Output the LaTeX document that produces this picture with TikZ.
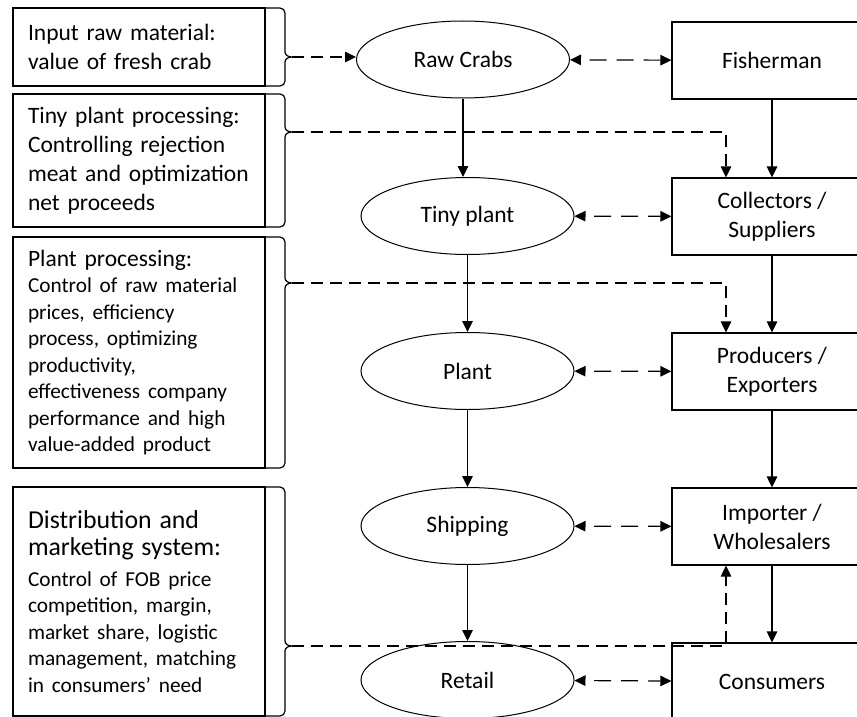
\documentclass[tikz,border=0pt]{standalone}
\usepackage{fontspec}
\setmainfont{Carlito}
\usetikzlibrary{arrows.meta,shapes.geometric}

\newcommand{\detail}{\fontsize{21.3}{26.5}\selectfont}
\newcommand{\headbig}{\fontsize{25.8}{27}\selectfont}
% brace on the right side of a left box: top, tip, bottom, name of tip
\newcommand{\crabbrace}[4]{%
\draw (265,#1) -- (280,#1) to[out=0,in=90] (285,#1+5) -- (285,#2-5) to[out=-90,in=180] (292,#2) coordinate (#4)
  to[out=180,in=90] (285,#2+5) -- (285,#3-5) to[out=-90,in=0] (280,#3) -- (265,#3);}

\tikzset{
  infobox/.style={draw, rectangle, text width=222, inner xsep=15, inner ysep=0, align=left, font=\fontsize{23.5}{29}\selectfont},
  stage/.style={draw, ellipse, minimum width=213, minimum height=77, inner sep=0, line width=1pt, font=\fontsize{23.5}{29}\selectfont},
  actor/.style={draw, rectangle, minimum width=200, minimum height=77, inner sep=0, align=center, font=\fontsize{23.5}{29}\selectfont},
  link/.style={dash pattern=on 12pt off 7pt},
  twoway/.style={<->, dash pattern=on 17pt off 10pt, dash phase=18pt},
}

\begin{document}
\begin{tikzpicture}[x=1pt,y=-1pt,line width=1.2pt,>={Triangle[length=11pt,width=10.5pt]}]
\clip (0,0) rectangle (857,717);
% left boxes
\node[infobox, minimum height=78] (inmat) at (139,47) {Input raw material:\\value of fresh crab};
\node[infobox, minimum height=133] (tinyproc) at (139,160.5) {Tiny plant processing:\\Controlling rejection\\meat and optimization\\net proceeds};
\node[infobox, minimum height=231] (plantproc) at (139,352.5) {Plant processing:\par{\detail Control of raw material\\prices, efficiency\\process, optimizing\\productivity,\\effectiveness company\\performance and high\\value-added product\par}};
\node[infobox, minimum height=229] (distrib) at (139,601.5) {{\headbig Distribution and\\marketing system:\par}\vspace{4pt}{\detail Control of FOB price\\competition, margin,\\market share, logistic\\management, matching\\in consumers' need\\[10pt]\par}};
\crabbrace{8}{57}{86}{tip1}
\crabbrace{94}{132}{227}{tip2}
\crabbrace{237}{283}{468}{tip3}
\crabbrace{487}{646}{716}{tip4}
% middle column
\node[stage] (crabs) at (463,59.5) {Raw Crabs};
\node[stage] (tiny) at (467.5,216) {Tiny plant};
\node[stage] (plant) at (467.5,371) {Plant};
\node[stage] (ship) at (467.5,526) {Shipping};
\node[stage] (retail) at (467.5,680) {Retail};
% right column
\node[actor] (fisher) at (772,60.5) {Fisherman};
\node[actor] (collect) at (772,216.5) {Collectors /\\Suppliers};
\node[actor] (produce) at (772,371.5) {Producers /\\Exporters};
\node[actor] (import) at (772,526.5) {Importer /\\Wholesalers};
\node[actor] (consume) at (772,681.5) {Consumers};
% dashed links
\coordinate (elbow) at (726,0);
\draw[link,->] (tip1) -- (tip1 -| crabs.west);
\draw[link,->] (tip2) -| (elbow |- collect.north);
\draw[link,->] (tip3) -| (elbow |- produce.north);
\draw[link,->] (tip4) -| (elbow |- import.south);
\draw[twoway] (crabs) -- (fisher);
\draw[twoway] (tiny) -- (collect);
\draw[twoway] (plant) -- (produce);
\draw[twoway] (ship) -- (import);
\draw[twoway] (retail) -- (consume);
% flows
\draw[->] (crabs) -- (crabs |- tiny.north);
\draw[->] (tiny) -- (plant);
\draw[->] (plant) -- (ship);
\draw[->] (ship) -- (retail);
\draw[->] (fisher) -- (collect);
\draw[->] (collect) -- (produce);
\draw[->] (produce) -- (import);
\draw[->] (import) -- (consume);
\end{tikzpicture}
\end{document}
